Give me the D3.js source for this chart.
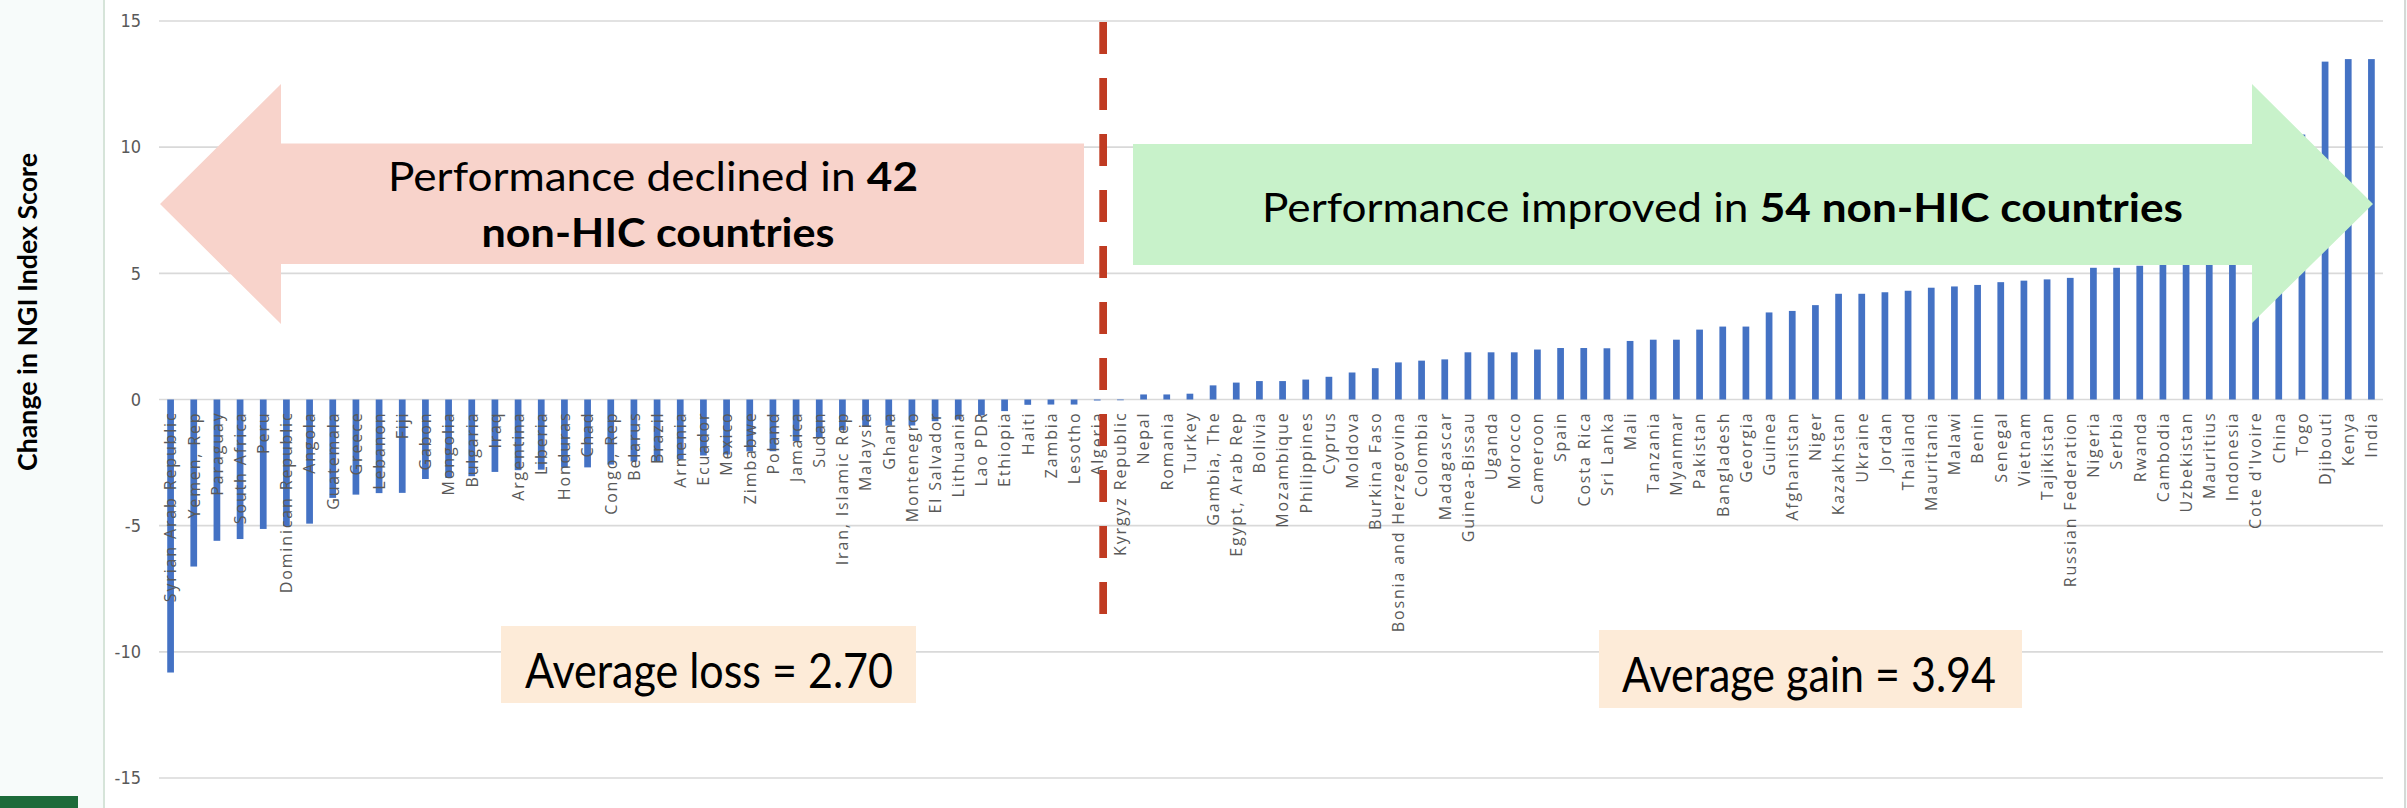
<!DOCTYPE html>
<html>
<head>
<meta charset="utf-8">
<script src="https://cdn.jsdelivr.net/npm/d3@7"></script>
<style>
  html, body { margin: 0; padding: 0; background: #f7fbfa; }
  svg { display: block; }
</style>
</head>
<body>
<svg id="chart" width="2407" height="808"></svg>
<script>
// Countries whose NGI index score fell, ordered from largest loss
const declinedCountries = [
  "Syrian Arab Republic", "Yemen, Rep", "Paraguay", "South Africa", "Peru",
  "Dominican Republic", "Angola", "Guatemala", "Greece", "Lebanon", "Fiji",
  "Gabon", "Mongolia", "Bulgaria", "Iraq", "Argentina", "Liberia", "Honduras",
  "Chad", "Congo, Rep", "Belarus", "Brazil", "Armenia", "Ecuador", "Mexico",
  "Zimbabwe", "Poland", "Jamaica", "Sudan", "Iran, Islamic Rep", "Malaysia",
  "Ghana", "Montenegro", "El Salvador", "Lithuania", "Lao PDR", "Ethiopia",
  "Haiti", "Zambia", "Lesotho", "Algeria", "Kyrgyz Republic"
];
const declinedValues = [
  -10.82, -6.62, -5.60, -5.53, -5.13,
  -5.02, -4.92, -3.90, -3.77, -3.71, -3.70,
  -3.15, -3.11, -3.04, -2.87, -2.80, -2.78, -2.70,
  -2.69, -2.58, -2.46, -2.45, -2.38, -2.22, -2.18,
  -2.06, -2.05, -1.65, -1.52, -1.22, -1.06,
  -1.04, -1.03, -0.86, -0.79, -0.63, -0.46,
  -0.21, -0.20, -0.20, -0.04, -0.03
];

// Countries whose score rose, ordered from smallest gain
const improvedCountries = [
  "Nepal", "Romania", "Turkey", "Gambia, The", "Egypt, Arab Rep", "Bolivia",
  "Mozambique", "Philippines", "Cyprus", "Moldova", "Burkina Faso",
  "Bosnia and Herzegovina", "Colombia", "Madagascar", "Guinea-Bissau", "Uganda",
  "Morocco", "Cameroon", "Spain", "Costa Rica", "Sri Lanka", "Mali", "Tanzania",
  "Myanmar", "Pakistan", "Bangladesh", "Georgia", "Guinea", "Afghanistan",
  "Niger", "Kazakhstan", "Ukraine", "Jordan", "Thailand", "Mauritania", "Malawi",
  "Benin", "Senegal", "Vietnam", "Tajikistan", "Russian Federation", "Nigeria",
  "Serbia", "Rwanda", "Cambodia", "Uzbekistan", "Mauritius", "Indonesia",
  "Cote d'Ivoire", "China", "Togo", "Djibouti", "Kenya", "India"
];
const improvedValues = [
  0.20, 0.20, 0.23, 0.56, 0.67, 0.73,
  0.73, 0.79, 0.90, 1.07, 1.24,
  1.47, 1.54, 1.59, 1.87, 1.87,
  1.87, 1.98, 2.04, 2.04, 2.03, 2.32, 2.37,
  2.37, 2.77, 2.89, 2.89, 3.45, 3.51,
  3.74, 4.19, 4.19, 4.25, 4.31, 4.43, 4.48,
  4.54, 4.65, 4.71, 4.76, 4.82, 5.22,
  5.22, 5.30, 5.40, 5.60, 5.80, 6.20,
  8.40, 9.60, 10.50, 13.39, 13.49, 13.49
];

const yTickValues = [-15, -10, -5, 0, 5, 10, 15];
const yAxisTitle = "Change in NGI Index Score";
const averageLoss = "2.70";
const averageGain = "3.94";

const countries = declinedCountries.concat(improvedCountries);
const values = declinedValues.concat(improvedValues);
const rows = countries.map((c, i) => ({ country: c, value: values[i] }));

const svg = d3.select("#chart");
const W = 2407, H = 808;
const plot = { left: 159, right: 2383, top: 21, bottom: 778 };

// Plot-area panel
svg.append("rect").attr("x", 105).attr("y", 0).attr("width", 2300).attr("height", H).attr("fill", "#ffffff");
svg.append("line").attr("x1", 104).attr("x2", 104).attr("y1", 0).attr("y2", H)
  .attr("stroke", "#d6e4d9").attr("stroke-width", 2);
svg.append("line").attr("x1", 2405).attr("x2", 2405).attr("y1", 0).attr("y2", H)
  .attr("stroke", "#d4d9d6").attr("stroke-width", 2);
svg.append("rect").attr("x", 0).attr("y", 796).attr("width", 78).attr("height", 12).attr("fill", "#1d6b3a");

const x = d3.scaleBand()
  .domain(countries)
  .range([plot.left, plot.right])
  .paddingInner(0.71)
  .paddingOuter(0.355);

const y = d3.scaleLinear()
  .domain([-15, 15])
  .range([plot.bottom, plot.top]);

// Horizontal gridlines
svg.append("g")
  .selectAll("line")
  .data(yTickValues)
  .join("line")
  .attr("x1", plot.left).attr("x2", plot.right)
  .attr("y1", d => y(d)).attr("y2", d => y(d))
  .attr("stroke", "#d9d9d9").attr("stroke-width", 1.6);

// Y axis tick labels (plain hyphen for negatives)
const yAxis = svg.append("g")
  .attr("transform", `translate(${plot.left - 18},0)`)
  .call(d3.axisLeft(y).tickValues(yTickValues).tickSize(0).tickPadding(0).tickFormat(d => String(d)));
yAxis.select(".domain").remove();
yAxis.selectAll("text")
  .attr("fill", "#595959")
  .style("font-family", "'Liberation Sans Narrow', 'DejaVu Sans Condensed', sans-serif")
  .style("font-size", "18px");

// Y axis title
svg.append("text")
  .attr("transform", "translate(37,312) rotate(-90)")
  .attr("text-anchor", "middle")
  .attr("textLength", 318)
  .attr("lengthAdjust", "spacingAndGlyphs")
  .style("font-family", "Lato, 'Open Sans', sans-serif")
  .style("font-weight", 700)
  .style("font-size", "27px")
  .attr("fill", "#000")
  .text(yAxisTitle);

// Bars
svg.append("g")
  .selectAll("rect")
  .data(rows)
  .join("rect")
  .attr("x", d => x(d.country))
  .attr("width", x.bandwidth())
  .attr("y", d => y(Math.max(0, d.value)))
  .attr("height", d => Math.abs(y(d.value) - y(0)))
  .attr("fill", "#4472c4");

// Category labels, rotated, hanging below the zero line
const xAxis = svg.append("g")
  .attr("transform", `translate(0,${y(0)})`)
  .call(d3.axisBottom(x).tickSize(0));
xAxis.select(".domain").remove();
xAxis.selectAll("text")
  .attr("transform", "rotate(-90)")
  .attr("text-anchor", "end")
  .attr("x", -12)
  .attr("y", 0)
  .attr("dy", "0.36em")
  .attr("fill", "#595959")
  .style("font-family", "'Open Sans', sans-serif")
  .style("font-size", "16px")
  .style("letter-spacing", "1.85px");

// Annotation arrows
const ann = svg.append("g");
ann.append("polygon")
  .attr("points", [[160, 204], [281, 84], [281, 143.5], [1084, 143.5], [1084, 264], [281, 264], [281, 324]].join(" "))
  .attr("fill", "#f8d3cb");
ann.append("polygon")
  .attr("points", [[1133, 144], [2252, 144], [2252, 84], [2373, 204], [2252, 323], [2252, 265], [1133, 265]].join(" "))
  .attr("fill", "#c8f2ca");

// Divider between declines and improvements
const dividerX = x("Algeria") + x.step() * 0.4;
svg.append("line")
  .attr("x1", dividerX).attr("x2", dividerX)
  .attr("y1", 22).attr("y2", 614)
  .attr("stroke", "#c03b22")
  .attr("stroke-width", 7.7)
  .attr("stroke-dasharray", "32 24");

function richText(parts, cx, baseline, size, len) {
  const t = svg.append("text")
    .attr("x", cx).attr("y", baseline)
    .attr("text-anchor", "middle")
    .attr("textLength", len)
    .attr("lengthAdjust", "spacingAndGlyphs")
    .style("font-family", "Lato, 'Open Sans', sans-serif")
    .style("font-size", size + "px")
    .attr("fill", "#000");
  parts.forEach(p => t.append("tspan").style("font-weight", p.bold ? 700 : 400).text(p.text));
  return t;
}

richText([{ text: "Performance declined in " }, { text: String(declinedCountries.length), bold: true }], 653, 190.7, 40, 530);
richText([{ text: "non-HIC countries", bold: true }], 658, 246.7, 40, 353);
richText([{ text: "Performance improved in " }, { text: improvedCountries.length + " non-HIC countries", bold: true }], 1722.5, 221.7, 40, 921);

// Average boxes
svg.append("rect").attr("x", 501).attr("y", 626).attr("width", 415).attr("height", 77).attr("fill", "#fdebd8");
svg.append("rect").attr("x", 1599).attr("y", 630).attr("width", 423).attr("height", 78).attr("fill", "#fdebd8");
richText([{ text: "Average loss = " + averageLoss }], 709, 688, 48, 368);
richText([{ text: "Average gain = " + averageGain }], 1809, 692, 48, 374);
</script>
</body>
</html>
